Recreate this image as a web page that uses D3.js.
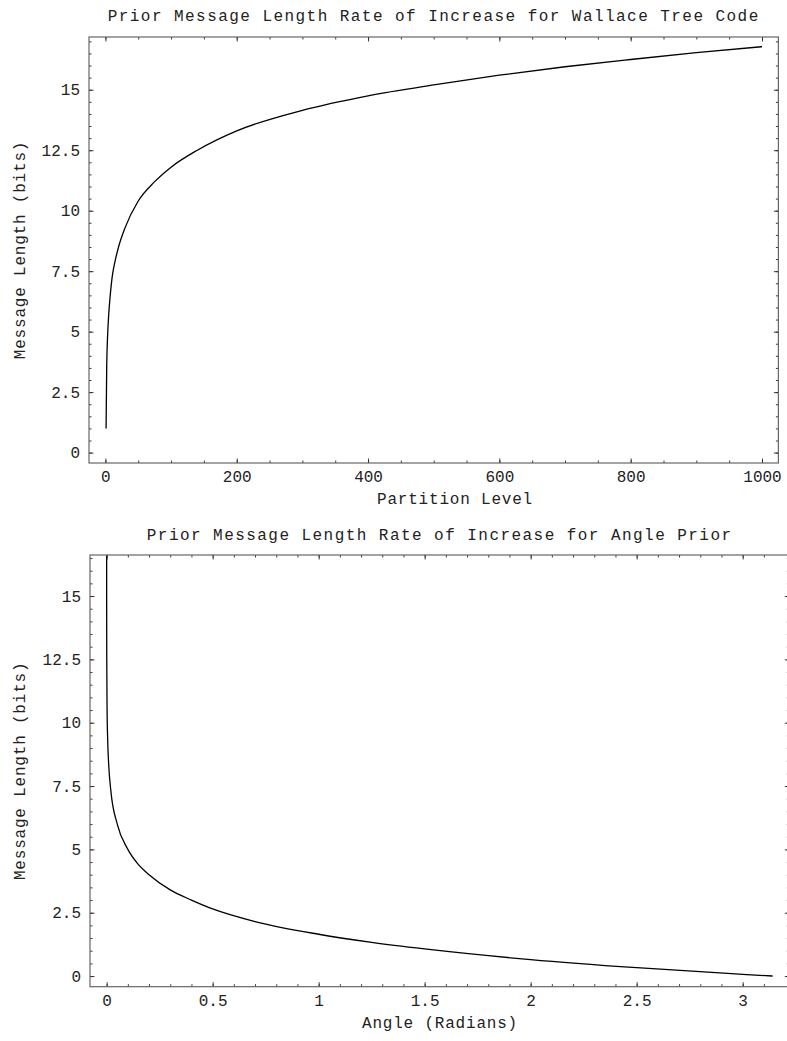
<!DOCTYPE html>
<html>
<head>
<meta charset="utf-8">
<script src="https://cdn.jsdelivr.net/npm/d3@7"></script>
<style>
  body { margin: 0; background: #fff; }
  text { font-family: "Liberation Mono", "DejaVu Sans Mono", monospace; fill: #222; }
</style>
</head>
<body>
<div id="chart"></div>
<script>
// Data
const treeLevels = [1, 2, 3, 5, 7, 10, 15, 20, 30, 50, 75, 100, 140, 200, 300, 400, 500, 600, 700, 800, 900, 1000];
const treeLengths = [1.0, 3.6, 4.6, 5.7, 6.4, 7.2, 7.95, 8.5, 9.3, 10.4, 11.2, 11.8, 12.5, 13.3, 14.15, 14.75, 15.2, 15.6, 15.95, 16.25, 16.53, 16.78];

const angles = [0.00002, 0.0001, 0.0005, 0.002, 0.005, 0.01, 0.02, 0.05, 0.1, 0.15, 0.2, 0.3, 0.4, 0.5, 0.7, 1, 1.25, 1.5, 2, 2.5, 3, 3.1416];
const angleLengths = [17.2, 14.9, 12.6, 10.6, 9.3, 8.3, 7.3, 6.0, 5.0, 4.4, 4.0, 3.4, 3.0, 2.65, 2.15, 1.65, 1.33, 1.07, 0.65, 0.33, 0.07, 0];

const treeXTicks = [0, 200, 400, 600, 800, 1000];
const angleXTicks = [0, 0.5, 1, 1.5, 2, 2.5, 3];
const yTicks = [0, 2.5, 5, 7.5, 10, 12.5, 15];

const width = 787, height = 1041;

const svg = d3.select("#chart").append("svg")
  .attr("width", width)
  .attr("height", height);

function drawPanel(cfg) {
  const x = d3.scaleLinear().domain(cfg.xDomain).range([cfg.left, cfg.right]);
  const y = d3.scaleLinear().domain(cfg.yDomain).range([cfg.bottom, cfg.top]);

  const g = svg.append("g");

  const clipId = "clip-" + cfg.id;
  g.append("clipPath").attr("id", clipId)
    .append("rect")
    .attr("x", cfg.left).attr("y", cfg.top)
    .attr("width", cfg.right - cfg.left).attr("height", cfg.bottom - cfg.top);

  // curve
  const pts = cfg.xs.map((v, i) => [v, cfg.ys[i]]);
  g.append("path")
    .datum(pts)
    .attr("clip-path", `url(#${clipId})`)
    .attr("fill", "none")
    .attr("stroke", "#000")
    .attr("stroke-width", 1.3)
    .attr("d", d3.line().x(d => x(d[0])).y(d => y(d[1])).curve(d3.curveMonotoneX));

  // frame ticks, pointing inward on all four sides
  const fmt = d => String(+d.toFixed(3));
  const xMinor = d3.range(cfg.xDomain[0], cfg.xDomain[1], cfg.xMinorStep)
    .map(v => Math.round(v / cfg.xMinorStep) * cfg.xMinorStep)
    .filter(v => v >= cfg.xDomain[0] && v <= cfg.xDomain[1]);
  const yMinor = d3.range(0, cfg.yDomain[1], 0.5);

  const bottomAxis = d3.axisBottom(x).tickValues(cfg.xTicks).tickFormat(fmt).tickSizeInner(-4.5).tickSizeOuter(0).tickPadding(8);
  const topAxis = d3.axisTop(x).tickValues(cfg.xTicks).tickFormat("").tickSizeInner(-4.5).tickSizeOuter(0);
  const leftAxis = d3.axisLeft(y).tickValues(yTicks).tickFormat(fmt).tickSizeInner(-4.5).tickSizeOuter(0).tickPadding(9);
  const rightAxis = d3.axisRight(y).tickValues(yTicks).tickFormat("").tickSizeInner(-4.5).tickSizeOuter(0);

  const minorB = d3.axisBottom(x).tickValues(xMinor).tickFormat("").tickSizeInner(-2.5).tickSizeOuter(0);
  const minorT = d3.axisTop(x).tickValues(xMinor).tickFormat("").tickSizeInner(-2.5).tickSizeOuter(0);
  const minorL = d3.axisLeft(y).tickValues(yMinor).tickFormat("").tickSizeInner(-2.5).tickSizeOuter(0);
  const minorR = d3.axisRight(y).tickValues(yMinor).tickFormat("").tickSizeInner(-2.5).tickSizeOuter(0);

  const axes = [
    [minorB, `translate(0,${cfg.bottom})`], [bottomAxis, `translate(0,${cfg.bottom})`],
    [minorT, `translate(0,${cfg.top})`], [topAxis, `translate(0,${cfg.top})`],
    [minorL, `translate(${cfg.left},0)`], [leftAxis, `translate(${cfg.left},0)`],
    [minorR, `translate(${cfg.right},0)`], [rightAxis, `translate(${cfg.right},0)`]
  ];
  axes.forEach(([ax, tr]) => {
    const a = g.append("g").attr("transform", tr).call(ax);
    a.select(".domain").remove();
    a.selectAll(".tick line").attr("stroke", "#222").attr("stroke-width", 0.9);
    a.selectAll("text").attr("font-size", "16px").attr("fill", "#222")
      .attr("font-family", "Liberation Mono, monospace");
  });

  // frame
  g.append("rect")
    .attr("x", cfg.left).attr("y", cfg.top)
    .attr("width", cfg.right - cfg.left).attr("height", cfg.bottom - cfg.top)
    .attr("fill", "none").attr("stroke", "#666").attr("stroke-width", 1.2);

  // title
  g.append("text")
    .attr("x", (cfg.left + cfg.right) / 2)
    .attr("y", cfg.titleY)
    .attr("text-anchor", "middle")
    .attr("font-size", "16px")
    .attr("letter-spacing", "1.45px")
    .text(cfg.title);

  // x label
  g.append("text")
    .attr("x", cfg.xLabelX)
    .attr("y", cfg.xLabelY)
    .attr("text-anchor", "middle")
    .attr("font-size", "16px")
    .attr("letter-spacing", "0.8px")
    .text(cfg.xLabel);

  // y label
  g.append("text")
    .attr("transform", `translate(25,${(cfg.top + cfg.bottom) / 2}) rotate(-90)`)
    .attr("text-anchor", "middle")
    .attr("font-size", "16px")
    .attr("letter-spacing", "0.8px")
    .text("Message Length (bits)");
}

drawPanel({
  id: "tree",
  xs: treeLevels, ys: treeLengths,
  xDomain: [-25, 1025], yDomain: [-0.43, 17.18],
  left: 89, right: 778.4, top: 37, bottom: 463,
  xTicks: treeXTicks, xMinorStep: 50,
  title: "Prior Message Length Rate of Increase for Wallace Tree Code",
  titleY: 21,
  xLabel: "Partition Level", xLabelX: 455, xLabelY: 504
});

drawPanel({
  id: "angle",
  xs: angles, ys: angleLengths,
  xDomain: [-0.0785, 3.22], yDomain: [-0.42, 16.62],
  left: 90, right: 789.3, top: 555, bottom: 986.7,
  xTicks: angleXTicks, xMinorStep: 0.1,
  title: "Prior Message Length Rate of Increase for Angle Prior",
  titleY: 540,
  xLabel: "Angle (Radians)", xLabelX: 440, xLabelY: 1028
});
</script>
</body>
</html>
